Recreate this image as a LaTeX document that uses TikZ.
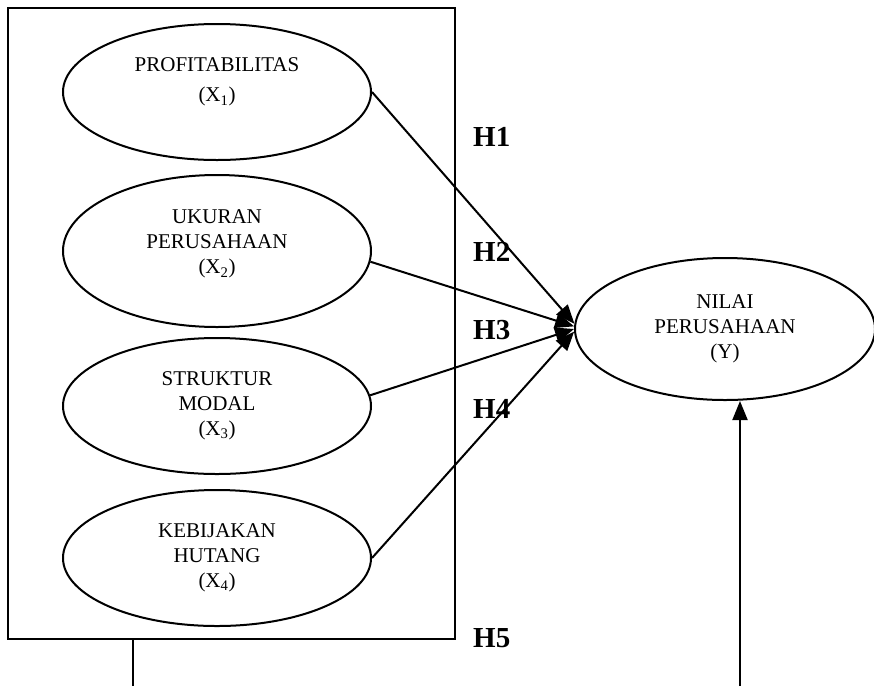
\documentclass[tikz,border=0pt]{standalone}
\usepackage{fontspec}
\setmainfont{Liberation Serif}
\usetikzlibrary{arrows.meta,shapes.geometric}
\tikzset{
	var/.style={draw,ellipse,line width=2pt,minimum width=308pt,minimum height=136pt,inner sep=0pt,align=center,font=\fontsize{21}{25}\selectfont},
	hyp/.style={anchor=west,inner sep=0pt,font=\bfseries\fontsize{29}{32}\selectfont},
	link/.style={line width=2pt,-{Triangle[length=19pt,width=15pt]}}
}
\begin{document}
\begin{tikzpicture}[x=1pt,y=-1pt]
	\useasboundingbox (0,0) rectangle (874,686);
	\node[draw,line width=2pt,minimum width=447pt,minimum height=631pt,inner sep=0pt] (box) at (231.5,323.5) {};
	\node[var,text depth=24pt] (x1) at (217,92) {PROFITABILITAS\\[5pt](X\textsubscript{1})};
	\node[var,minimum height=152pt,text depth=18pt] (x2) at (217,251) {UKURAN\\PERUSAHAAN\\(X\textsubscript{2})};
	\node[var] (x3) at (217,406) {STRUKTUR\\MODAL\\(X\textsubscript{3})};
	\node[var] (x4) at (217,558) {KEBIJAKAN\\HUTANG\\(X\textsubscript{4})};
	\node[var,minimum width=300pt,minimum height=142pt] (y) at (725,329) {NILAI\\PERUSAHAAN\\(Y)};

	\draw[link] (x1.east) -- (y.178);
	\draw[link] (x2.-4) -- (y.179);
	\draw[link] (x3.4) -- (y.west);
	\draw[link] (x4.east) -- (y.181);

	\coordinate (bl) at (133,686);
	\coordinate (br) at (740,686);
	\draw[line width=1.3pt] (box.south -| bl) -- (bl);
	\draw[link] (br) -- (br |- y.south);

	\node[hyp] (h1) at (473,137) {H1};
	\node[hyp] (h2) at (473,252) {H2};
	\node[hyp] (h3) at (473,330) {H3};
	\node[hyp] (h4) at (473,409) {H4};
	\node[hyp] (h5) at (473,638) {H5};
\end{tikzpicture}
\end{document}
